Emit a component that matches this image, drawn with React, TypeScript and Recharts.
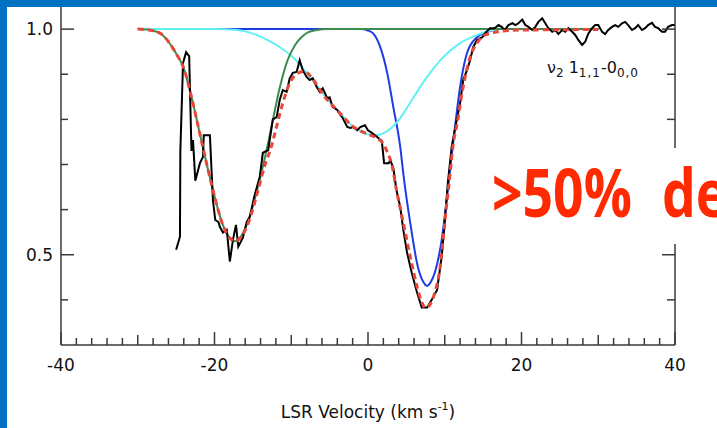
import { LineChart, Line, XAxis, YAxis } from "recharts"

// velocity (km/s), normalised flux
const observed: [number, number][] = [
  [-25, 0.511], [-24.5, 0.54], [-24.45, 0.73], [-24.1, 0.925], [-23.7, 0.949], [-23.3, 0.94],
  [-23.0, 0.73], [-22.8, 0.754], [-22.5, 0.664], [-21.9, 0.703], [-21.5, 0.717], [-21.4, 0.765],
  [-20.6, 0.765], [-20.2, 0.62], [-19.9, 0.577], [-19.5, 0.573], [-19.3, 0.562], [-18.9, 0.549],
  [-18.4, 0.555], [-18, 0.485], [-17.6, 0.533], [-17.2, 0.566], [-16.9, 0.518], [-16.3, 0.538],
  [-15.8, 0.573], [-15.4, 0.584], [-14.8, 0.63], [-14.1, 0.673], [-13.7, 0.726], [-13, 0.732],
  [-12.4, 0.8], [-11.9, 0.805], [-11.5, 0.843], [-11.1, 0.865], [-10.6, 0.861], [-10.2, 0.891],
  [-9.8, 0.903], [-9.3, 0.905], [-8.9, 0.931], [-8.5, 0.909], [-8, 0.894], [-7.6, 0.887],
  [-7.2, 0.891], [-6.7, 0.872], [-6.3, 0.861], [-5.9, 0.869], [-5.3, 0.847], [-5, 0.849],
  [-4.6, 0.827], [-4, 0.821], [-3.6, 0.81], [-3.3, 0.803], [-2.7, 0.783], [-2.3, 0.781],
  [-2, 0.783], [-1.4, 0.776], [-1, 0.783], [-0.4, 0.787], [0, 0.776], [0.5, 0.77],
  [1.2, 0.761], [1.8, 0.752], [2.1, 0.703], [2.7, 0.703], [2.9, 0.71], [3.3, 0.692],
  [3.7, 0.644], [4.2, 0.606], [4.6, 0.555], [5.1, 0.504], [5.7, 0.46], [6.4, 0.416],
  [7, 0.383], [7.7, 0.383], [8.3, 0.4], [9, 0.422], [9.6, 0.496], [10, 0.571],
  [10.4, 0.659], [10.9, 0.739], [11.3, 0.776], [12, 0.836], [12.4, 0.887], [12.9, 0.909],
  [13.3, 0.931], [13.7, 0.96], [14.2, 0.976], [14.9, 0.982], [15.2, 0.99], [15.9, 1.002],
  [16.5, 1.002], [17, 1.009], [17.4, 1.005], [17.8, 0.998], [18.3, 1.009], [18.8, 1.013],
  [19.2, 1.009], [19.6, 1.013], [20.1, 1.021], [20.5, 1.009], [20.9, 1.005], [21.4, 0.998],
  [21.8, 1.005], [22.2, 1.016], [22.7, 1.024], [23.1, 1.013], [23.5, 1.002], [24, 0.994],
  [24.4, 0.998], [24.8, 0.989], [25.3, 0.998], [25.7, 0.994], [26.1, 1.002], [26.6, 0.994],
  [27, 0.987], [27.4, 0.976], [27.9, 0.965], [28.3, 0.972], [28.7, 0.99], [29.2, 1.002],
  [29.6, 1.009], [30, 1.009], [30.5, 0.994], [30.9, 0.989], [31.3, 0.998], [31.8, 1.005],
  [32.2, 1.009], [32.6, 1.005], [33.1, 1.013], [33.5, 1.016], [33.9, 1.009], [34.4, 0.998],
  [34.8, 1.002], [35.2, 1.009], [35.7, 0.998], [36.1, 1.002], [36.5, 1.009], [37, 1.014],
  [37.4, 1.005], [37.8, 1.002], [38.3, 0.994], [38.7, 0.994], [39.1, 1.005], [39.6, 1.009],
  [40, 1.009],
]

// total fit (red dashed)
const fitTotal: [number, number][] = [
  [-30, 1.0], [-28.5, 0.998], [-27, 0.99], [-26, 0.972], [-25, 0.946], [-24, 0.913],
  [-23, 0.85], [-22, 0.775], [-21, 0.7], [-20, 0.63], [-19, 0.57], [-18, 0.537],
  [-17.3, 0.53], [-16.5, 0.54], [-15.5, 0.575], [-14.5, 0.632], [-13.5, 0.695], [-12.5, 0.745],
  [-11.9, 0.785], [-11.1, 0.836], [-10.2, 0.88], [-9.1, 0.903], [-8.3, 0.906], [-7, 0.885],
  [-6, 0.858], [-4, 0.82], [-2, 0.785], [0, 0.767], [1.2, 0.758], [2, 0.746],
  [2.5, 0.728], [3.1, 0.7], [3.7, 0.644], [4.6, 0.571], [5.5, 0.496], [6.4, 0.429],
  [7, 0.395], [7.5, 0.382], [8.1, 0.39], [8.7, 0.416], [9.4, 0.473], [10, 0.571],
  [10.7, 0.68], [11.1, 0.745], [11.6, 0.79], [12.4, 0.872], [13.3, 0.938], [14.2, 0.969],
  [15, 0.985], [15.9, 0.99], [17.2, 0.995], [20, 0.998], [30, 0.999],
]

// fit components: green, cyan, blue
const compA: [number, number][] = [
  [-30, 1.0], [-28.5, 0.998], [-27, 0.99], [-26, 0.972], [-25, 0.946], [-24, 0.913],
  [-23, 0.85], [-22, 0.775], [-21, 0.7], [-20, 0.63], [-19, 0.57], [-18, 0.537],
  [-17.3, 0.53], [-16.5, 0.542], [-15.5, 0.58], [-14.5, 0.64], [-13.5, 0.71], [-12.5, 0.79],
  [-11.5, 0.87], [-10.5, 0.93], [-9.5, 0.965], [-8.5, 0.985], [-7, 0.997], [-5, 1.0],
  [30, 1.0],
]

const compB: [number, number][] = [
  [-30, 1.0], [-20, 1.0], [-17, 0.998], [-15, 0.99], [-13, 0.975], [-11.5, 0.96],
  [-9.8, 0.938], [-8, 0.903], [-6, 0.86], [-4, 0.82], [-2, 0.785], [0, 0.767],
  [1, 0.765], [2.5, 0.774], [4.2, 0.803], [5.9, 0.848], [7.7, 0.894], [9.8, 0.938],
  [12, 0.969], [14.2, 0.987], [16, 0.997], [18, 1.0], [30, 1.0],
]

const compC: [number, number][] = [
  [-30, 1.0], [-1, 1.0], [0, 0.997], [0.7, 0.99], [1.6, 0.96], [2.5, 0.903],
  [3.3, 0.827], [4.2, 0.739], [4.6, 0.68], [5.5, 0.571], [6.5, 0.473], [7.2, 0.44],
  [7.7, 0.431], [8.2, 0.44], [8.7, 0.46], [9.6, 0.533], [10.4, 0.644], [11.1, 0.748],
  [12, 0.872], [12.9, 0.947], [14.2, 0.982], [15.5, 0.993], [17, 1.0], [30, 1.0],
]

const xTicks = [
  -40, -38, -36, -34, -32, -30, -28, -26, -24, -22, -20, -18, -16, -14, -12, -10, -8, -6, -4, -2,
  0, 2, 4, 6, 8, 10, 12, 14, 16, 18, 20, 22, 24, 26, 28, 30, 32, 34, 36, 38, 40,
]
const xLabels = [-40, -20, 0, 20, 40]
const yTicks = [0.4, 0.5, 0.6, 0.7, 0.8, 0.9, 1.0]
const yLabels = [0.5, 1.0]

const toRows = (pts: [number, number][]) => pts.map(([v, t]) => ({ v, t }))

const AXIS = "#3a3a3a"
const FONT = "'DejaVu Sans', sans-serif"

function XTick({ x, y, payload }: any) {
  const v = payload.value
  const len = v % 20 === 0 ? 13 : v % 10 === 0 ? 10 : 7
  return (
    <g>
      <line x1={x} x2={x} y1={y} y2={y - len} stroke={AXIS} strokeWidth={1.5} />
      {xLabels.includes(v) && (
        <text x={x} y={y + 26} textAnchor="middle" fontSize={17} fontFamily={FONT} fill="#111">
          {v}
        </text>
      )}
    </g>
  )
}

function LeftTick({ x, y, payload }: any) {
  const major = yLabels.includes(payload.value)
  return (
    <g>
      <line x1={x} x2={x + (major ? 13 : 7)} y1={y} y2={y} stroke={AXIS} strokeWidth={1.5} />
      {major && (
        <text x={x - 8} y={y + 6} textAnchor="end" fontSize={17} fontFamily={FONT} fill="#111">
          {payload.value.toFixed(1)}
        </text>
      )}
    </g>
  )
}

function RightTick({ x, y, payload }: any) {
  const major = yLabels.includes(payload.value)
  return <line x1={x} x2={x - (major ? 13 : 8)} y1={y} y2={y} stroke={AXIS} strokeWidth={1.5} />
}

export default function App() {
  return (
    <div style={{ position: "fixed", left: 0, top: 0, width: 717, height: 428, background: "#0070c0" }}>
      <div style={{ position: "absolute", left: 7, top: 7, right: 0, bottom: 0, background: "#fff" }} />
      <div style={{ position: "absolute", left: 0, top: 0 }}>
        <LineChart width={717} height={428} margin={{ top: 7, right: 0, bottom: 0, left: 0 }}>
          <XAxis
            type="number"
            dataKey="v"
            domain={[-40, 40]}
            allowDataOverflow
            ticks={xTicks}
            interval={0}
            height={83}
            tickSize={0}
            tickMargin={0}
            tickLine={false}
            tick={<XTick />}
            axisLine={{ stroke: AXIS, strokeWidth: 1.5 }}
          />
          <YAxis
            yAxisId="left"
            domain={[0.3, 1.049]}
            allowDataOverflow
            ticks={yTicks}
            interval={0}
            width={61}
            tickSize={0}
            tickMargin={0}
            tickLine={false}
            tick={<LeftTick />}
            axisLine={{ stroke: AXIS, strokeWidth: 1.5 }}
          />
          <YAxis
            yAxisId="right"
            orientation="right"
            domain={[0.3, 1.049]}
            allowDataOverflow
            ticks={yTicks}
            interval={0}
            width={42}
            tickSize={0}
            tickMargin={0}
            tickLine={false}
            tick={<RightTick />}
            axisLine={{ stroke: AXIS, strokeWidth: 1.5 }}
          />
          <Line yAxisId="left" data={toRows(compC)} dataKey="t" type="monotone" stroke="#1f3be6" strokeWidth={2} dot={false} isAnimationActive={false} />
          <Line yAxisId="left" data={toRows(compB)} dataKey="t" type="monotone" stroke="#62f0f6" strokeWidth={2} dot={false} isAnimationActive={false} />
          <Line yAxisId="left" data={toRows(compA)} dataKey="t" type="monotone" stroke="#3d8c4e" strokeWidth={2} dot={false} isAnimationActive={false} />
          <Line yAxisId="left" data={toRows(observed)} dataKey="t" type="linear" stroke="#000" strokeWidth={2} dot={false} isAnimationActive={false} />
          <Line yAxisId="left" data={toRows(fitTotal)} dataKey="t" type="monotone" stroke="#e8473a" strokeWidth={3} strokeDasharray="6 4" dot={false} isAnimationActive={false} />
        </LineChart>
      </div>
      <svg width={717} height={428} style={{ position: "absolute", left: 0, top: 0, pointerEvents: "none" }}>
        <text x={547} y={73} fontSize={16} fontFamily={FONT} fill="#111">
          ν<tspan dy={4} fontSize={12}>2</tspan>
          <tspan dy={-4}> 1</tspan>
          <tspan dy={4} fontSize={12} letterSpacing={1}>1,1</tspan>
          <tspan dy={-4}>-0</tspan>
          <tspan dy={4} fontSize={12} letterSpacing={1}>0,0</tspan>
        </text>
        <text x={368} y={418} textAnchor="middle" fontSize={17} fontFamily={FONT} fill="#111">
          LSR Velocity (km s<tspan dy={-8} fontSize={11}>-1</tspan>
          <tspan dy={8}>)</tspan>
        </text>
        <rect x={484} y={148} width={233} height={96} fill="#fff" />
        <g transform="translate(492 217) scale(0.81 1)">
          <text x={0} y={0} fontSize={66} fontWeight="bold" wordSpacing={20} fontFamily="'Open Sans', sans-serif" fill="#ff2a00">
            &gt;50% de
          </text>
        </g>
      </svg>
    </div>
  )
}
